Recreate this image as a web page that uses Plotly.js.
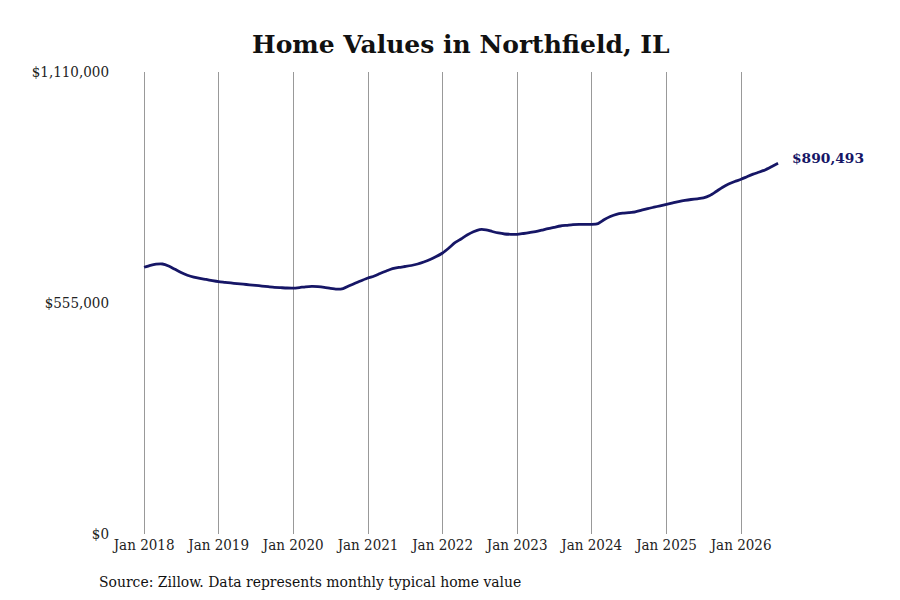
<!DOCTYPE html>
<html>
<head>
<meta charset="utf-8">
<script src="https://cdn.plot.ly/plotly-3.0.1.min.js"></script>
<style>
    html, body { margin: 0; padding: 0; background: #fff; }
    #plotDiv { width: 900px; height: 600px; }
</style>
</head>
<body>
<div id="plotDiv"></div>
<script>
// monthly typical home value, Jan 2018 onwards
const homeValues = [
    640800, 645600, 648200, 648700, 643900, 636000, 628300, 621800, 617000, 613900, 611500, 608800,
    606400, 604700, 603100, 601600, 600200, 598700, 597300, 595800, 594200, 592700, 591800, 591000,
    590800, 592200, 593900, 594900, 594400, 592700, 590100, 588200, 589600, 596300, 603100, 609100,
    615100, 619900, 625900, 631900, 637400, 640500, 642700, 645100, 648700, 653500, 659500, 666700,
    675100, 687100, 699200, 708800, 718400, 726300, 731400, 730900, 726800, 723200, 720800, 720100,
    719800, 722000, 724100, 726500, 729900, 733800, 736900, 740000, 741700, 743400, 744100, 743800,
    743800, 745800, 754900, 762800, 768100, 770800, 772200, 774100, 778000, 781800, 785200, 788500,
    791900, 795300, 798600, 801500, 803700, 805400, 807500, 813300, 822900, 832500, 840900, 846900,
    852200, 858900, 864500, 869700, 875300, 883000, 890493
]
const startYear = 2018
const tickYears = [2018, 2019, 2020, 2021, 2022, 2023, 2024, 2025, 2026]
const yTickVals = [0, 555000, 1110000]
const yTickText = ["$0", "$555,000", "$1,110,000"]
const chartTitle = "Home Values in Northfield, IL"
const sourceNote = "Source: Zillow. Data represents monthly typical home value"

// build month dates for each value
let months = []
for (let i = 0; i < homeValues.length; i++) {
    let y = startYear + Math.floor(i / 12)
    let m = (i % 12) + 1
    months.push(y + "-" + String(m).padStart(2, "0") + "-01")
}
let tickVals = tickYears.map(y => y + "-01-01")
let tickText = tickYears.map(y => "Jan " + y)

const lastIdx = homeValues.length - 1
const serif = "DejaVu Serif Condensed, DejaVu Serif, serif"
const navy = "rgb(22, 22, 102)"

let plotData = [{
    type: 'scatter',
    x: months,
    y: homeValues,
    mode: 'lines',
    line: {
        color: navy,
        width: 2.8,
        shape: 'spline',
        smoothing: 0.6
    },
    hoverinfo: 'x+y'
}]

let plotLayout = {
    width: 900,
    height: 600,
    font: {
        family: serif,
        size: 15,
        color: '#222'
    },
    title: {
        text: '<b>' + chartTitle + '</b>',
        font: {
            family: "DejaVu Serif, serif",
            size: 25,
            color: '#111'
        },
        x: 0.512,
        xanchor: 'center',
        y: 0.927,
        yanchor: 'middle'
    },
    margin: {
        l: 112,
        r: 30,
        t: 72,
        b: 66
    },
    xaxis: {
        type: 'date',
        range: ['2017-07-28', '2027-09-24'],
        tickvals: tickVals,
        ticktext: tickText,
        showgrid: true,
        gridcolor: '#999',
        gridwidth: 1,
        ticks: '',
        showline: false,
        zeroline: false,
        tickfont: { family: serif, size: 15, color: '#222' }
    },
    yaxis: {
        range: [0, 1110000],
        tickvals: yTickVals,
        ticktext: yTickText,
        showgrid: false,
        zeroline: false,
        showline: false,
        ticks: '',
        ticklabelstandoff: 2,
        tickfont: { family: serif, size: 15, color: '#222' }
    },
    annotations: [
        {
            x: months[lastIdx],
            y: homeValues[lastIdx],
            xref: 'x',
            yref: 'y',
            text: '<b>$' + homeValues[lastIdx].toLocaleString('en-US') + '</b>',
            showarrow: false,
            xanchor: 'left',
            xshift: 12,
            yshift: 5,
            font: { family: "DejaVu Serif, serif", size: 13.8, color: navy }
        },
        {
            x: 0,
            y: 0,
            xref: 'paper',
            yref: 'paper',
            text: sourceNote,
            showarrow: false,
            xanchor: 'left',
            yanchor: 'top',
            xshift: -15,
            yshift: -37,
            font: { family: serif, size: 15.5, color: '#111' }
        }
    ],
    showlegend: false,
    paper_bgcolor: '#fff',
    plot_bgcolor: '#fff'
}

let plotConfig = {
    displayModeBar: false,
    responsive: false
}

Plotly.newPlot(document.getElementById("plotDiv"), plotData, plotLayout, plotConfig)
</script>
</body>
</html>
